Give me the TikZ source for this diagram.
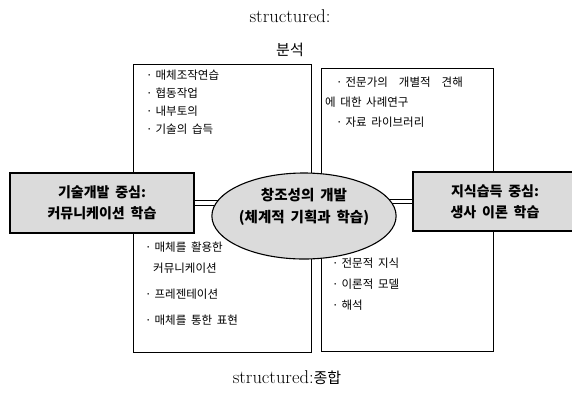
\documentclass[tikz,border=0pt]{standalone}
\usepackage{fontspec}
\newfontfamily\cjk[WordSpace=1.8]{Noto Sans CJK KR}
\newcommand\dotitem{·\hspace{3pt}}
\usetikzlibrary{shapes, positioning}
\tikzset{
    column/.style={
        rectangle,
        draw=black,
        line width=1pt,
        inner sep=0pt,
    },
    focus/.style={
        rectangle,
        draw=black,
        line width=1.1pt,
        fill=black!14,
        inner sep=0pt,
        align=center,
        font=\cjk\bfseries\fontsize{14}{21}\selectfont,
    },
    core/.style={
        ellipse,
        draw=black,
        line width=1.1pt,
        fill=black!14,
        inner sep=0pt,
        minimum width=184pt,
        minimum height=86pt,
        align=center,
        font=\cjk\bfseries\fontsize{14.5}{22}\selectfont,
    },
    itemlist/.style={
        anchor=north west,
        inner sep=0pt,
        align=left,
        font=\cjk\fontsize{11.5}{18}\selectfont,
    },
    link/.style={
        double,
        double distance=3.5pt,
        line width=0.9pt,
    },
}

\begin{document}
\begin{tikzpicture}[x=1pt, y=-1pt, node distance=34pt, on grid]
      \useasboundingbox (0,0) rectangle (572,394);

      \node (heading) at (290,16) {\fontsize{18.5}{20}\selectfont structured:};

      \node[below of=heading, font=\cjk\fontsize{15}{18}\selectfont] (analysis) {분석};

      \node[column, minimum width=178pt, minimum height=288pt] (leftcol) at (222,208) {};

      \node[column, minimum width=172pt, minimum height=283pt] (rightcol) at (407,209.5) {};

      \node[itemlist] (practice) at (146,70) {\dotitem 매체조작연습\\ \dotitem 협동작업\\ \dotitem 내부토의\\ \dotitem 기술의 습득};

      \node[itemlist, font=\cjk\fontsize{11.5}{20}\selectfont] (cases) at (325,77) {\hspace*{11pt}\dotitem 전문가의\hspace{11pt}개별적\hspace{11pt}견해\\ 에 대한 사례연구\\ \hspace*{11pt}\dotitem 자료 라이브러리};

      \node[itemlist, font=\cjk\fontsize{11.5}{21}\selectfont] (media) at (145,242) {\dotitem 매체를 활용한\\ \hspace*{8pt}커뮤니케이션\\[5pt] \dotitem 프레젠테이션\\[5pt] \dotitem 매체를 통한 표현};

      \node[itemlist, font=\cjk\fontsize{11.5}{21}\selectfont] (theory) at (332,258) {\dotitem 전문적 지식\\ \dotitem 이론적 모델\\ \dotitem 해석};

      \node[focus, minimum width=184pt, minimum height=60pt] (skill) at (102,203) {기술개발 중심:\\ 커뮤니케이션 학습};

      \node[focus, minimum width=164pt, minimum height=59pt] (knowledge) at (495,201.5) {지식습득 중심:\\ 생사 이론 학습};

      \coordinate (hub) at (304,216);

      \draw[link] (skill.east) -- (skill.east -| hub);
      \draw[link] (knowledge.west) -- (knowledge.west -| hub);

      \node[core] (core) at (hub) {창조성의 개발\\ (체계적 기획과 학습)\\ \mbox{}};

      \node (footing) at (287,378) {\fontsize{18.5}{20}\selectfont structured:{\cjk\fontsize{15}{18}\selectfont 종합}};

    \end{tikzpicture}
\end{document}
